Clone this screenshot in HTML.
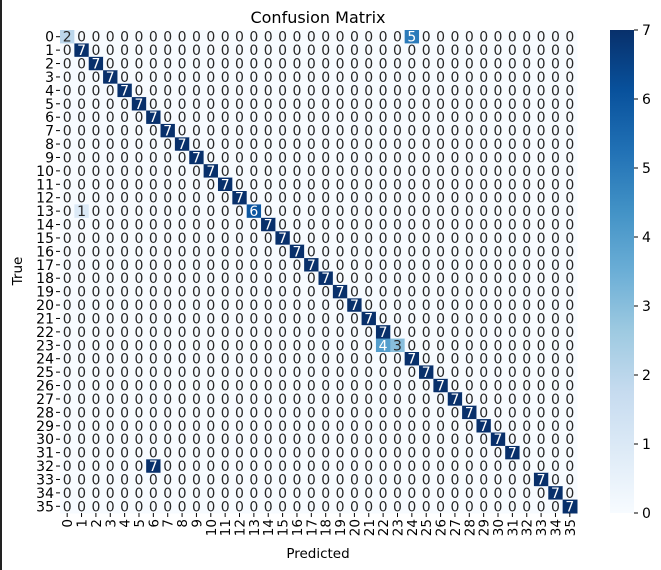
<!DOCTYPE html>
<html><head><meta charset="utf-8"><style>
html,body{margin:0;padding:0;background:#fff;width:661px;height:570px;overflow:hidden}
svg{display:block;font-family:"DejaVu Sans","Liberation Sans",sans-serif}
</style></head><body>
<svg id="chart" width="661" height="570" viewBox="0 0 661 570" xmlns="http://www.w3.org/2000/svg">
<rect x="0" y="0" width="2" height="570" fill="#222"/>
<text x="318" y="23" font-size="16" text-anchor="middle" fill="#000">Confusion Matrix</text>
<text x="318" y="558" font-size="13.5" text-anchor="middle" fill="#000">Predicted</text>
<text x="22" y="271" font-size="13.5" text-anchor="middle" fill="#000" transform="rotate(-90 22 271)">True</text>
<g id="cells"></g><g id="ticks"></g><g id="cbar"></g>
</svg>
<script>
const classLabels = Array.from({length:36},(_,i)=>String(i));
const diagonalValues = [2,7,7,7,7,7,7,7,7,7,7,7,7,6,7,7,7,7,7,7,7,7,7,3,7,7,7,7,7,7,7,7,0,7,7,7];
const offDiagonal = [[0,24,5],[13,1,1],[23,22,4],[32,6,7]];
const colorbarTicks = [0,1,2,3,4,5,6,7];
const vmin = 0, vmax = 7;

const NS="http://www.w3.org/2000/svg";
const X0=60, Y0=30, CW=(577-60)/36, CH=(513-30)/36;
const xs=i=>X0+i*CW, ys=i=>Y0+i*CH;
const stops=[[247,251,255],[222,235,247],[198,219,239],[158,202,225],[107,174,214],[66,146,198],[33,113,181],[8,81,156],[8,48,107]];
function blues(t){t=Math.max(0,Math.min(1,t));const p=t*8,i=Math.min(7,Math.floor(p)),f=p-i;const a=stops[i],b=stops[i+1];return `rgb(${a.map((v,k)=>Math.round(v+(b[k]-v)*f)).join(',')})`;}
function mk(tag,attrs,parent){const e=document.createElementNS(NS,tag);for(const k in attrs)e.setAttribute(k,attrs[k]);parent.appendChild(e);return e;}

const M=classLabels.map(()=>classLabels.map(()=>0));
diagonalValues.forEach((v,i)=>M[i][i]=v);
offDiagonal.forEach(([r,c,v])=>M[r][c]=v);

const cells=document.getElementById('cells');
for(let r=0;r<36;r++)for(let c=0;c<36;c++){
  const v=M[r][c],t=(v-vmin)/(vmax-vmin);
  const rect=mk('rect',{x:xs(c),y:ys(r),width:CW+0.5,height:CH+0.5,fill:blues(t)},cells);
  
  
  const tx=mk('text',{x:xs(c)+CW/2,y:ys(r)+CH/2+5,'font-size':14,'text-anchor':'middle',fill:t>0.5?'#fff':'#262626'},cells);
  tx.textContent=v;
  
  
}
const ticks=document.getElementById('ticks');
classLabels.forEach((lab,i)=>{
  const y=ys(i)+CH/2;
  mk('line',{x1:X0-4,x2:X0,y1:y,y2:y,stroke:'#000','stroke-width':1},ticks);
  const t=mk('text',{x:X0-6,y:y+5,'font-size':14,'text-anchor':'end',fill:'#000'},ticks);
  t.textContent=lab;
  
  
  const x=xs(i)+CW/2;
  mk('line',{x1:x,x2:x,y1:513,y2:517,stroke:'#000','stroke-width':1},ticks);
  const u=mk('text',{x:x+5,y:519,'font-size':13.5,'text-anchor':'end',fill:'#000',transform:`rotate(-90 ${x+5} 519)`},ticks);
  u.textContent=lab;
  
  
});
const cb=document.getElementById('cbar');
const CX=610,CWb=24,CT=30,CB=513;
const defs=mk('defs',{},cb);
const g=mk('linearGradient',{id:'bg',x1:0,y1:1,x2:0,y2:0},defs);
for(let k=0;k<=8;k++)mk('stop',{offset:k/8,'stop-color':blues(k/8)},g);
const bar=mk('rect',{x:CX,y:CT,width:CWb,height:CB-CT,fill:'url(#bg)'},cb);


colorbarTicks.forEach(v=>{
  const y=CB-(v-vmin)/(vmax-vmin)*(CB-CT);
  mk('line',{x1:CX+CWb,x2:CX+CWb+4,y1:y,y2:y,stroke:'#000'},cb);
  const t=mk('text',{x:CX+CWb+8,y:y+5,'font-size':14,fill:'#000'},cb);
  t.textContent=v;
  
  
});
</script>
</body></html>
